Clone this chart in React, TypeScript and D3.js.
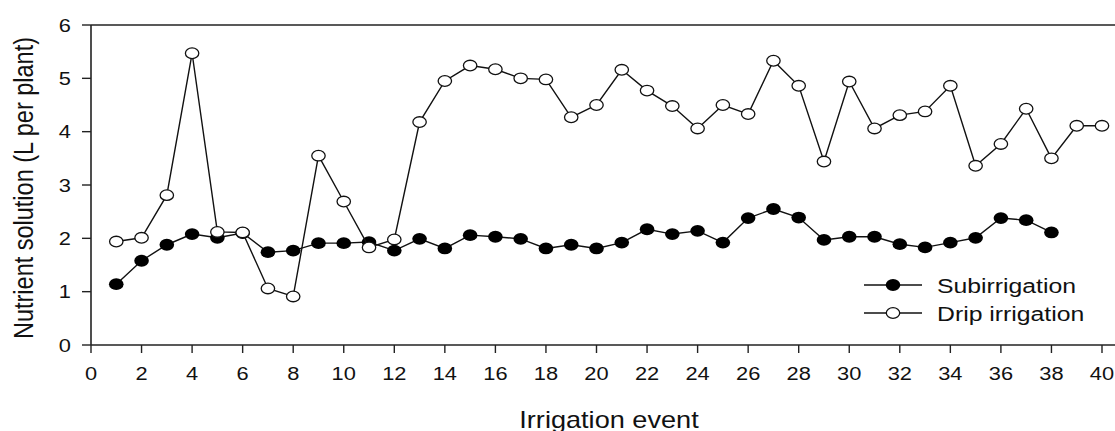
import * as d3 from "d3";
import React, { useRef, useEffect } from "react";

// irrigation events 1..40
const events = d3.range(1, 41);

// Subirrigation, events 1..38
const subirrigation = [
  1.14, 1.58, 1.88, 2.08, 2.01, 2.1, 1.74, 1.77, 1.91, 1.91, 1.93, 1.77, 1.99,
  1.81, 2.06, 2.03, 1.99, 1.81, 1.88, 1.81, 1.92, 2.17, 2.08, 2.14, 1.92, 2.38,
  2.55, 2.39, 1.97, 2.03, 2.03, 1.89, 1.83, 1.92, 2.01, 2.38, 2.34, 2.11,
];

// Drip irrigation, events 1..40
const drip = [
  1.94, 2.01, 2.81, 5.47, 2.12, 2.11, 1.06, 0.91, 3.55, 2.69, 1.83, 1.98, 4.18,
  4.95, 5.24, 5.17, 5.0, 4.98, 4.27, 4.5, 5.16, 4.77, 4.48, 4.06, 4.5, 4.33,
  5.33, 4.86, 3.44, 4.94, 4.06, 4.31, 4.38, 4.86, 3.36, 3.77, 4.43, 3.5, 4.11,
  4.11,
];

const xTicks = d3.range(0, 41, 2);
const yTicks = [0, 1, 2, 3, 4, 5, 6];

const seriesNames = ["Subirrigation", "Drip irrigation"];

const WIDTH = 1115;
const HEIGHT = 431;
const FONT = "'Liberation Sans', Arial, sans-serif";
const SX = 1.18; // the picture is a bit stretched horizontally

const App: React.FC = () => {
  const svgRef = useRef<SVGSVGElement>(null);

  useEffect(() => {
    if (!svgRef.current) return;
    const svg = d3.select(svgRef.current);
    svg.selectAll("*").remove();

    const x = d3.scaleLinear().domain([0, 40]).range([91, 1102]);
    const y = d3.scaleLinear().domain([0, 6]).range([345, 25]);

    const addText = (
      tx: number,
      ty: number,
      str: string,
      size: number,
      anchor: string,
      rotate = 0
    ) =>
      svg
        .append("text")
        .attr(
          "transform",
          `translate(${tx},${ty}) scale(${SX},1) rotate(${rotate})`
        )
        .attr("text-anchor", anchor)
        .attr("font-family", FONT)
        .attr("font-size", size)
        .attr("fill", "#111")
        .text(str);

    // frame: left, top and bottom lines
    const axisColor = "#222";
    svg
      .append("line")
      .attr("x1", x(0))
      .attr("x2", x(0))
      .attr("y1", y(6))
      .attr("y2", y(0))
      .attr("stroke", axisColor)
      .attr("stroke-width", 1.6);
    svg
      .append("line")
      .attr("x1", x(0))
      .attr("x2", WIDTH)
      .attr("y1", y(6))
      .attr("y2", y(6))
      .attr("stroke", axisColor)
      .attr("stroke-width", 1.6);
    svg
      .append("line")
      .attr("x1", x(0))
      .attr("x2", WIDTH)
      .attr("y1", y(0))
      .attr("y2", y(0))
      .attr("stroke", axisColor)
      .attr("stroke-width", 1.6);

    // y ticks
    yTicks.forEach((t) => {
      svg
        .append("line")
        .attr("x1", x(0) - 9)
        .attr("x2", x(0))
        .attr("y1", y(t))
        .attr("y2", y(t))
        .attr("stroke", axisColor)
        .attr("stroke-width", 1.4);
      addText(x(0) - 20, y(t) + 6.5, String(t), 18.5, "end");
    });

    // x ticks
    xTicks.forEach((t) => {
      svg
        .append("line")
        .attr("x1", x(t))
        .attr("x2", x(t))
        .attr("y1", y(0))
        .attr("y2", y(0) + 8)
        .attr("stroke", axisColor)
        .attr("stroke-width", 1.4);
      addText(x(t), 380, String(t), 18.5, "middle");
    });

    // axis titles
    addText(609, 428, "Irrigation event", 23, "middle");
    addText(33, 188, "Nutrient solution (L per plant)", 23.5, "middle", -90);

    const line = d3
      .line<number>()
      .x((_, i) => x(events[i]))
      .y((d) => y(d));

    const RX = 7.3;
    const RY = 5.9;

    // Subirrigation (filled)
    svg
      .append("path")
      .attr("d", line(subirrigation))
      .attr("fill", "none")
      .attr("stroke", "#111")
      .attr("stroke-width", 1.4);
    svg
      .append("g")
      .selectAll("ellipse")
      .data(subirrigation)
      .enter()
      .append("ellipse")
      .attr("cx", (_, i) => x(events[i]))
      .attr("cy", (d) => y(d))
      .attr("rx", RX)
      .attr("ry", RY)
      .attr("fill", "#000");

    // Drip irrigation (open)
    svg
      .append("path")
      .attr("d", line(drip))
      .attr("fill", "none")
      .attr("stroke", "#111")
      .attr("stroke-width", 1.4);
    svg
      .append("g")
      .selectAll("ellipse")
      .data(drip)
      .enter()
      .append("ellipse")
      .attr("cx", (_, i) => x(events[i]))
      .attr("cy", (d) => y(d))
      .attr("rx", RX - 0.6)
      .attr("ry", RY - 0.6)
      .attr("fill", "#fff")
      .attr("stroke", "#111")
      .attr("stroke-width", 1.3);

    // legend
    const legendY = [285, 313];
    seriesNames.forEach((name, i) => {
      const ly = legendY[i];
      svg
        .append("line")
        .attr("x1", 864)
        .attr("x2", 922)
        .attr("y1", ly)
        .attr("y2", ly)
        .attr("stroke", "#111")
        .attr("stroke-width", 1.4);
      const m = svg
        .append("ellipse")
        .attr("cx", 893)
        .attr("cy", ly)
        .attr("rx", i === 0 ? RX : RX - 0.6)
        .attr("ry", i === 0 ? RY : RY - 0.6);
      if (i === 0) m.attr("fill", "#000");
      else m.attr("fill", "#fff").attr("stroke", "#111").attr("stroke-width", 1.3);
      addText(937, ly + 7.5, name, 21, "start");
    });
  }, []);

  return (
    <div style={{ position: "absolute", left: 0, top: 0, background: "#fff" }}>
      <svg ref={svgRef} width={WIDTH} height={HEIGHT} style={{ display: "block" }} />
    </div>
  );
};

export default App;
